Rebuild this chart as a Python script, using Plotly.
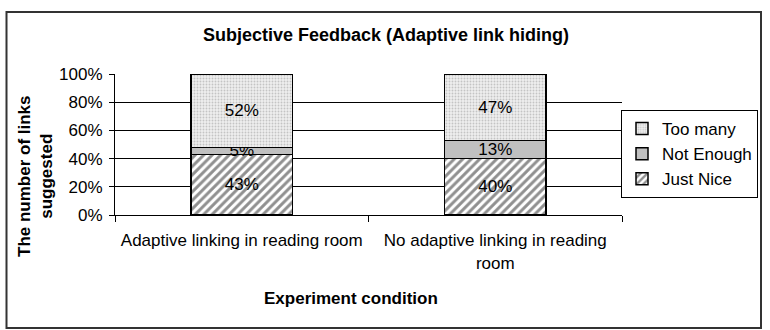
import plotly.graph_objects as go

categories = ["Adaptive linking in reading room", "No adaptive linking in reading<br>room"]
just_nice = [43, 40]
not_enough = [5, 13]
too_many = [52, 47]
y_ticks = [0, 20, 40, 60, 80, 100]
y_tick_labels = ["0%", "20%", "40%", "60%", "80%", "100%"]

FONT = "Liberation Sans, Arial, sans-serif"
FS = 17


def labels(vals):
    return [f"{v}%" for v in vals]


fig = go.Figure()
fig.add_trace(go.Bar(
    name="Just Nice", x=categories, y=just_nice, text=labels(just_nice),
    textposition="inside", insidetextanchor="middle", hoverinfo="skip",
    textangle=0, textfont=dict(size=FS, color="black", family=FONT),
    marker=dict(color="white", line=dict(color="black", width=1.5),
                pattern=dict(shape="/", fgcolor="#222222", bgcolor="white",
                             size=6, solidity=0.5)),
    width=0.4,
))
fig.add_trace(go.Bar(
    name="Not Enough", x=categories, y=not_enough, text=labels(not_enough),
    textposition="inside", insidetextanchor="middle", hoverinfo="skip",
    textangle=0, textfont=dict(size=FS, color="black", family=FONT),
    marker=dict(color="#c0c0c0", line=dict(color="black", width=1.5)),
    width=0.4,
))
fig.add_trace(go.Bar(
    name="Too many", x=categories, y=too_many, text=labels(too_many),
    textposition="inside", insidetextanchor="middle", hoverinfo="skip",
    textangle=0, textfont=dict(size=FS, color="black", family=FONT),
    marker=dict(color="white", line=dict(color="black", width=1.5),
                pattern=dict(shape=".", fgcolor="#999999", bgcolor="#eeeeee",
                             size=3, solidity=0.3)),
    width=0.4,
))

L, R, T, B = 115, 622, 74, 215
W, H = 770, 330
pw, ph = R - L, B - T


def px(x):
    return (x - L) / pw


def py(y):
    return (B - y) / ph


fig.update_layout(
    width=W, height=H,
    margin=dict(l=L, r=W - R, t=T, b=H - B, pad=0),
    barmode="stack",
    paper_bgcolor="white", plot_bgcolor="white",
    font=dict(family=FONT, size=FS, color="black"),
    showlegend=True,
    legend=dict(traceorder="reversed", x=px(758), xanchor="right", y=py(110), yanchor="top",
                bordercolor="black", borderwidth=1, bgcolor="white",
                font=dict(size=FS, family=FONT), itemwidth=30, tracegroupgap=0),
    uniformtext=dict(minsize=FS, mode="show"),
    xaxis=dict(type="category", tickson="boundaries", ticks="outside", ticklen=6,
               tickcolor="black", showgrid=False, showline=True, linecolor="black",
               linewidth=1, range=[-0.5, 1.5], tickfont=dict(size=FS, family=FONT),
               ticklabelstandoff=10),
    yaxis=dict(range=[0, 100], tickvals=y_ticks, ticktext=y_tick_labels,
               ticks="outside", ticklen=5, tickcolor="black", showline=True,
               linecolor="black", linewidth=1, showgrid=True, gridcolor="black",
               gridwidth=1, tickfont=dict(size=FS, family=FONT), zeroline=False,
               ticklabelstandoff=3),
    shapes=[dict(type="rect", xref="paper", yref="paper",
                 x0=px(6.5), x1=px(761), y0=py(328), y1=py(12),
                 line=dict(color="#333333", width=2), fillcolor="rgba(0,0,0,0)")],
    annotations=[
        dict(text="<b>Subjective Feedback (Adaptive link hiding)</b>", xref="paper", yref="paper",
             x=px(386), y=py(35), xanchor="center", yanchor="middle", showarrow=False,
             font=dict(size=18, family=FONT)),
        dict(text="<b>Experiment condition</b>", xref="paper", yref="paper",
             x=px(351), y=py(298), xanchor="center", yanchor="middle", showarrow=False,
             font=dict(size=17, family=FONT)),
        dict(text="<b>The number of links<br>suggested</b>", xref="paper", yref="paper",
             x=px(35), y=py(176), xanchor="center", yanchor="middle", showarrow=False,
             textangle=-90, font=dict(size=17, family=FONT)),
    ],
)

fig.write_html("out.html")
